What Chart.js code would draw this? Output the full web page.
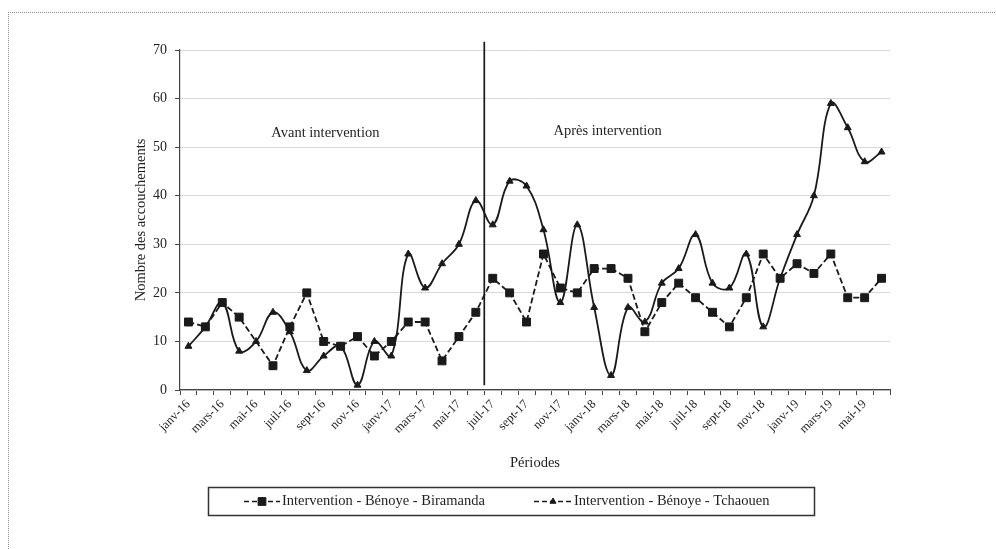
<!DOCTYPE html>
<html>
<head>
<meta charset="utf-8">
<script src="https://cdn.jsdelivr.net/npm/chart.js@4"></script>
<style>
  html, body { margin: 0; padding: 0; background: #fff; }
  #wrap { position: relative; width: 996px; height: 549px; overflow: hidden; }
  #frame { position: absolute; left: 8px; top: 12px; width: 1000px; height: 560px;
           border-top: 1px dotted #8c8c8c; border-left: 1px dotted #8c8c8c; }
  canvas { position: absolute; left: 0; top: 0; }
</style>
</head>
<body>
<div id="wrap">
  <div id="frame"></div>
  <canvas id="c" width="996" height="549"></canvas>
</div>
<script>
const months = ["janv-16","févr-16","mars-16","avr-16","mai-16","juin-16","juil-16","août-16","sept-16","oct-16","nov-16","déc-16",
                "janv-17","févr-17","mars-17","avr-17","mai-17","juin-17","juil-17","août-17","sept-17","oct-17","nov-17","déc-17",
                "janv-18","févr-18","mars-18","avr-18","mai-18","juin-18","juil-18","août-18","sept-18","oct-18","nov-18","déc-18",
                "janv-19","févr-19","mars-19","avr-19","mai-19","juin-19"];
const biramanda = [14,13,18,15,null,5,13,20,10,9,11,7,10,14,14,6,11,16,
                   23,20,14,28,21,20,25,25,23,12,18,22,19,16,13,19,28,23,26,24,28,19,19,23];
const tchaouen  = [9,13,18,8,10,16,12,4,7,9,1,10,7,28,21,26,30,39,
                   34,43,42,33,18,34,17,3,17,14,22,25,32,22,21,28,13,23,32,40,59,54,47,49];
const seriesNames = ["Intervention - Bénoye - Biramanda", "Intervention - Bénoye - Tchaouen"];
const phaseLabels = ["Avant intervention", "Après intervention"];
const yTicks = [0,10,20,30,40,50,60,70];
const interventionAt = 17.5; // between juin-17 and juil-17

const FONT = "'Liberation Serif', 'DejaVu Serif', serif";
const INK = "#1a1a1a";
const TXT = "#1f1f1f";

const overlay = {
  id: 'overlay',
  afterDatasetsDraw(chart) {
    const {ctx, scales: {x, y}} = chart;
    ctx.save();
    const xp = x.getPixelForValue(interventionAt);
    ctx.strokeStyle = INK; ctx.lineWidth = 1.7;
    ctx.beginPath(); ctx.moveTo(xp, y.getPixelForValue(71.7)); ctx.lineTo(xp, y.getPixelForValue(1)); ctx.stroke();
    ctx.fillStyle = TXT;
    ctx.font = "14.5px " + FONT;
    ctx.textAlign = 'center'; ctx.textBaseline = 'middle';
    ctx.fillText(phaseLabels[0], x.getPixelForValue(8.1), y.getPixelForValue(52.9));
    ctx.fillText(phaseLabels[1], x.getPixelForValue(24.8), y.getPixelForValue(53.2));
    ctx.restore();
  },
  afterDraw(chart) {
    const ctx = chart.ctx;
    ctx.save();
    ctx.strokeStyle = "#333"; ctx.lineWidth = 1.5;
    ctx.strokeRect(208.5, 487.5, 606, 28);
    const items = [{x0: 244, x1: 280, tx: 282}, {x0: 534, x1: 572, tx: 574}];
    chart.data.datasets.forEach((ds, i) => {
      const it = items[i]; const ym = 501.5;
      ctx.strokeStyle = INK; ctx.lineWidth = 1.6; ctx.setLineDash([5, 3]);
      ctx.beginPath(); ctx.moveTo(it.x0, ym); ctx.lineTo(it.x1, ym); ctx.stroke();
      ctx.setLineDash([]);
      ctx.fillStyle = INK; ctx.strokeStyle = INK; ctx.lineWidth = 1;
      Chart.helpers.drawPoint(ctx, {pointStyle: ds.pointStyle, radius: i === 0 ? 5.5 : 3.5, borderWidth: 1},
                              (it.x0 + it.x1) / 2, ym);
      ctx.fillStyle = TXT;
      ctx.font = "14.5px " + FONT; ctx.textAlign = 'left'; ctx.textBaseline = 'middle';
      ctx.fillText(ds.label, it.tx, ym);
    });
    ctx.restore();
  }
};

new Chart(document.getElementById('c'), {
  type: 'line',
  data: {
    labels: months,
    datasets: [
      { label: seriesNames[0], data: biramanda, borderColor: INK, backgroundColor: INK,
        borderWidth: 1.8, borderDash: [6, 3], tension: 0, spanGaps: true,
        pointStyle: 'rect', pointRadius: 5.6, pointBorderWidth: 1, pointBackgroundColor: INK, pointBorderColor: INK },
      { label: seriesNames[1], data: tchaouen, borderColor: INK, backgroundColor: INK,
        borderWidth: 1.8, tension: 0.4, spanGaps: true,
        pointStyle: 'triangle', pointRadius: 4, pointBorderWidth: 1, pointBackgroundColor: INK, pointBorderColor: INK }
    ]
  },
  options: {
    responsive: false, animation: false, devicePixelRatio: 1,
    layout: { padding: { left: 132, right: 106, top: 50, bottom: 77 } },
    plugins: { legend: { display: false }, tooltip: { enabled: false } },
    scales: {
      x: {
        offset: true,
        grid: { offset: true, drawOnChartArea: false, drawTicks: true, tickLength: 5, tickColor: "#444", tickWidth: 1 },
        border: { display: true, color: "#444", width: 1.2 },
        ticks: { autoSkip: false, minRotation: 45, maxRotation: 45, padding: 2, color: TXT,
                 font: { family: FONT, size: 12.5 },
                 callback(v, i) { return i % 2 === 0 ? months[i] : ''; } },
        title: { display: true, text: 'Périodes', color: TXT, padding: 0, font: { family: FONT, size: 14.5 } },
        afterFit(s) { s.height = 82; }
      },
      y: {
        min: 0, max: 70,
        afterBuildTicks(s) { s.ticks = yTicks.map(v => ({ value: v })); },
        grid: { color: "#d9d9d9", lineWidth: 1, drawTicks: true, tickLength: 5, tickColor: "#444" },
        border: { display: true, color: "#444", width: 1.2 },
        ticks: { padding: 8, color: TXT, font: { family: FONT, size: 14 } },
        title: { display: true, text: 'Nombre des accouchements', color: TXT, padding: 0, font: { family: FONT, size: 14.5 } },
        afterFit(s) { s.width = 48; }
      }
    }
  },
  plugins: [overlay]
});
</script>
</body>
</html>
